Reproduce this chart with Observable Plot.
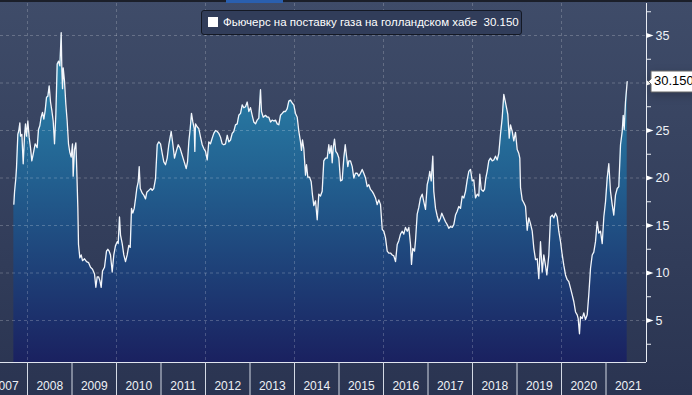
<!DOCTYPE html>
<html><head><meta charset="utf-8">
<script src="https://cdn.jsdelivr.net/npm/d3@7"></script>
<script src="https://cdn.jsdelivr.net/npm/@observablehq/plot@0.6"></script>
<style>
html,body{margin:0;padding:0;}
body{width:692px;height:395px;overflow:hidden;background:linear-gradient(#3f4c69,#2a3451);font-family:"Liberation Sans",Arial,sans-serif;}
#wrap{position:relative;width:692px;height:395px;}
#wrap svg{display:block;}
#topbar{position:absolute;left:0;top:0;width:692px;height:2px;background:#1b1f29;}
#topbar i{position:absolute;left:226px;width:57px;top:0;height:3px;background:#2a5fae;}
#legend{position:absolute;left:201px;top:10px;width:321px;height:25px;box-sizing:border-box;border:1px solid #141925;border-radius:3px;background:#313d5a;color:#fff;font-size:11.5px;line-height:23px;padding-left:6px;white-space:nowrap;}
#legend .sw{display:inline-block;width:10px;height:10px;background:#fff;margin-right:5px;vertical-align:-1px;}
g[aria-label="tip"] text{fill:#000;}
</style>
</head><body>
<div id="wrap"></div>
<script>
// TTF gas futures: [decimal year, price]
const ttf = [
[2007.693,17.25],[2007.708,18.5],[2007.738,20],[2007.753,21.1],[2007.783,24.6],[2007.805,25],[2007.828,25.8],[2007.843,24.4],[2007.873,24.6],[2007.903,21.5],[2007.933,24.4],[2007.955,25.7],[2007.978,24.4],
[2008.007,26],[2008.037,24.3],[2008.067,23.2],[2008.097,21.8],[2008.127,22.5],[2008.172,23.6],[2008.217,23.2],[2008.247,25.1],[2008.277,25.5],[2008.307,26.4],[2008.337,26.9],[2008.367,26.2],[2008.397,27.1],[2008.427,28.5],[2008.457,28.6],[2008.487,29.7],[2008.517,28],[2008.547,27.1],[2008.577,26],[2008.607,23.6],[2008.637,26.7],[2008.667,32],[2008.697,32.3],[2008.727,31.8],[2008.757,35.3],[2008.772,31.3],[2008.787,29.4],[2008.802,31.6],[2008.831,30.2],[2008.861,27.8],[2008.891,26],[2008.921,23.6],[2008.951,22.7],[2008.981,22.2],
[2009.011,23.6],[2009.026,20.2],[2009.056,23],[2009.086,23.7],[2009.101,21.8],[2009.131,16.9],[2009.146,13],[2009.176,11.6],[2009.206,11.9],[2009.236,11.3],[2009.281,11.5],[2009.326,11.2],[2009.371,11.1],[2009.416,10.6],[2009.461,10.4],[2009.506,9.9],[2009.536,8.5],[2009.566,9.6],[2009.596,9.6],[2009.626,9.2],[2009.656,8.5],[2009.685,10.2],[2009.730,10.6],[2009.775,12.3],[2009.805,12.5],[2009.835,12.3],[2009.865,11.9],[2009.903,10.1],[2009.939,11.9],[2009.978,12.9],
[2010.016,13.3],[2010.038,13.1],[2010.067,15.9],[2010.090,14.0],[2010.128,13.1],[2010.164,11.9],[2010.202,11.2],[2010.240,11.9],[2010.276,12.9],[2010.308,12.7],[2010.337,16.8],[2010.366,16.3],[2010.398,16.8],[2010.427,17.8],[2010.456,18.9],[2010.488,19.6],[2010.510,21.2],[2010.533,18.9],[2010.578,18.4],[2010.613,18.2],[2010.652,17.8],[2010.681,18.5],[2010.726,18.7],[2010.771,18.9],[2010.802,18.7],[2010.838,18.9],[2010.876,19.9],[2010.915,23.5],[2010.951,23.8],[2010.989,23.6],
[2011.027,22.6],[2011.063,21.7],[2011.101,21.4],[2011.139,22.1],[2011.175,23.5],[2011.229,24.9],[2011.265,23.6],[2011.303,22.1],[2011.342,22.8],[2011.387,23.5],[2011.431,23.1],[2011.476,22.4],[2011.521,21.7],[2011.566,21.0],[2011.596,21.7],[2011.625,23.8],[2011.656,25.2],[2011.685,26.8],[2011.715,25.9],[2011.746,25.2],[2011.760,22.8],[2011.775,25.7],[2011.813,25.4],[2011.849,25.2],[2011.888,24.3],[2011.926,23.5],[2011.962,23.1],
[2012.000,22.8],[2012.038,21.9],[2012.074,23.8],[2012.112,23.6],[2012.151,24.2],[2012.187,24.7],[2012.225,25.0],[2012.263,24.9],[2012.299,24.7],[2012.337,24.3],[2012.375,23.6],[2012.411,23.5],[2012.449,23.6],[2012.488,24.5],[2012.524,23.8],[2012.562,24.0],[2012.600,24.7],[2012.636,24.9],[2012.674,25.6],[2012.712,25.7],[2012.748,26.6],[2012.787,26.8],[2012.825,27.7],[2012.861,27.4],[2012.899,27.5],[2012.937,28.0],[2012.973,27.0],
[2013.011,27.4],[2013.049,26.6],[2013.085,25.9],[2013.124,25.7],[2013.162,26.1],[2013.198,26.3],[2013.236,29.3],[2013.258,27.0],[2013.297,26.4],[2013.348,26.6],[2013.387,26.4],[2013.422,26.4],[2013.461,25.9],[2013.499,26.1],[2013.535,26.0],[2013.573,26.1],[2013.611,25.7],[2013.647,25.6],[2013.685,26.6],[2013.724,26.8],[2013.760,27.0],[2013.798,27.0],[2013.836,27.3],[2013.872,28.1],[2013.910,28.2],[2013.948,27.9],[2013.984,27.7],
[2014.022,26.8],[2014.061,26.4],[2014.097,24.9],[2014.135,23.8],[2014.157,22.9],[2014.180,24.0],[2014.209,23.1],[2014.247,20.3],[2014.270,21.4],[2014.299,20.1],[2014.337,20.1],[2014.375,19.6],[2014.404,18.2],[2014.434,17.1],[2014.472,17.6],[2014.510,15.6],[2014.546,18.3],[2014.584,18.1],[2014.622,18.6],[2014.658,21.8],[2014.697,22.1],[2014.735,22.1],[2014.771,23.5],[2014.793,22.6],[2014.825,23.4],[2014.847,21.6],[2014.870,23.2],[2014.899,24.1],[2014.928,22.8],[2014.960,22.6],[2014.996,22.1],
[2015.034,19.7],[2015.072,19.8],[2015.108,22.1],[2015.140,23.5],[2015.169,22.3],[2015.198,21.2],[2015.220,21.8],[2015.258,21.8],[2015.297,21.2],[2015.333,20.0],[2015.371,20.5],[2015.409,20.5],[2015.445,20.2],[2015.483,20.5],[2015.521,20.9],[2015.557,20.5],[2015.596,20.0],[2015.634,19.1],[2015.670,19.3],[2015.708,18.8],[2015.746,18.6],[2015.782,18.3],[2015.820,17.9],[2015.858,17.2],[2015.894,17.7],[2015.933,17.2],[2015.971,14.6],
[2016.007,14.4],[2016.045,13.7],[2016.083,12.3],[2016.119,12.1],[2016.157,12.1],[2016.196,11.9],[2016.231,11.8],[2016.270,11.2],[2016.308,13.0],[2016.344,13.4],[2016.382,14.1],[2016.420,14.4],[2016.456,14.1],[2016.494,14.8],[2016.533,14.4],[2016.569,14.8],[2016.607,13.0],[2016.629,10.9],[2016.658,12.6],[2016.697,12.3],[2016.719,13.4],[2016.757,16.2],[2016.793,16.9],[2016.831,17.9],[2016.870,18.3],[2016.906,17.5],[2016.944,16.7],[2016.982,19.3],
[2017.018,20.0],[2017.040,20.7],[2017.072,19.7],[2017.108,22.3],[2017.130,18.6],[2017.169,16.8],[2017.207,16.0],[2017.243,15.4],[2017.281,15.8],[2017.310,16.3],[2017.355,15.8],[2017.393,15.4],[2017.431,15.1],[2017.467,14.7],[2017.506,14.9],[2017.544,14.8],[2017.580,15.1],[2017.618,16.1],[2017.656,16.5],[2017.692,17.0],[2017.730,16.8],[2017.769,18.1],[2017.804,17.9],[2017.843,18.6],[2017.881,19.8],[2017.917,20.7],[2017.955,20.9],[2017.993,19.7],
[2018.029,19.8],[2018.067,17.9],[2018.106,18.3],[2018.142,18.1],[2018.164,20.4],[2018.196,18.8],[2018.240,18.6],[2018.270,18.8],[2018.299,20.0],[2018.330,20.7],[2018.366,21.8],[2018.404,22.1],[2018.443,21.8],[2018.479,21.9],[2018.517,22.3],[2018.555,21.9],[2018.591,22.6],[2018.629,24.6],[2018.667,26.3],[2018.703,28.8],[2018.735,28.1],[2018.764,27.4],[2018.793,26.7],[2018.825,24.2],[2018.854,25.6],[2018.892,24.9],[2018.928,23.9],[2018.966,24.8],
[2019.004,23.0],[2019.040,22.6],[2019.063,22.1],[2019.079,19.0],[2019.117,17.7],[2019.153,17.4],[2019.191,17.0],[2019.229,14.5],[2019.265,15.8],[2019.303,15.2],[2019.342,14.4],[2019.378,12.6],[2019.416,11.4],[2019.454,11.5],[2019.490,9.4],[2019.528,13.3],[2019.566,10.1],[2019.602,11.9],[2019.640,10.8],[2019.670,9.8],[2019.715,11.9],[2019.753,15.9],[2019.791,16.1],[2019.827,15.8],[2019.865,16.3],[2019.903,15.9],[2019.939,14.4],[2019.978,13.3],
[2020.016,11.9],[2020.052,10.8],[2020.090,9.8],[2020.128,9.3],[2020.164,9.1],[2020.202,8.4],[2020.240,7.7],[2020.276,7.0],[2020.315,5.9],[2020.353,5.6],[2020.375,5.2],[2020.404,3.6],[2020.427,5.4],[2020.465,5.2],[2020.501,5.8],[2020.539,5.1],[2020.578,5.6],[2020.613,7.7],[2020.652,10.5],[2020.690,11.9],[2020.726,12.2],[2020.764,13.3],[2020.802,15.4],[2020.838,14.2],[2020.876,14.4],[2020.915,13.1],[2020.951,15.9],[2020.989,17.5],
[2021.027,20.0],[2021.063,21.5],[2021.101,18.6],[2021.139,17.2],[2021.175,16.1],[2021.213,18.2],[2021.252,18.9],[2021.288,19.1],[2021.326,23.5],[2021.364,24.9],[2021.387,26.6],[2021.409,25.1],[2021.438,28.0],[2021.476,30.15]
];
const seriesLabel = "Фьючерс на поставку газа на голландском хабе";
const yTicks = [5, 10, 15, 20, 25, 30, 35];
const yLabelTicks = [5, 10, 15, 20, 25, 35]; // 30 sits under the last-value box
const yMinorTicks = [2.5, 7.5, 12.5, 17.5, 22.5, 27.5, 32.5, 37.5];
const yearStarts = [2008,2009,2010,2011,2012,2013,2014,2015,2016,2017,2018,2019,2020,2021];
const yearLabels = [2007,2008,2009,2010,2011,2012,2013,2014,2015,2016,2017,2018,2019,2020,2021];
const gridYears = [2008,2010,2012,2014,2016,2018,2020];
const xDomain = [2007.393, 2021.91];
const yDomain = [0.58, 38.37];

const last = ttf[ttf.length - 1];
const fmt = v => v.toFixed(3);
const X = d => d[0], Y = d => d[1];

const defs = (index, scales, values, dim) => {
  const g = document.createElementNS("http://www.w3.org/2000/svg", "defs");
  const top = dim.marginTop + 30, bottom = dim.height - dim.marginBottom;
  g.innerHTML = `<linearGradient id="areaGrad" gradientUnits="userSpaceOnUse" x1="0" y1="${top}" x2="0" y2="${bottom}">
    <stop offset="0" stop-color="#2c8db1"/><stop offset="0.45" stop-color="#225f8f"/><stop offset="1" stop-color="#1a2160"/></linearGradient>`;
  return g;
};

const marks = [
  defs,
  Plot.areaY(ttf, {x: X, y1: yDomain[0], y2: Y, fill: "url(#areaGrad)"}),
  Plot.ruleY(yTicks, {stroke: "#fff", strokeOpacity: 0.22, strokeDasharray: "3,3"}),
  Plot.ruleX(gridYears, {stroke: "#fff", strokeOpacity: 0.2, strokeDasharray: "3,3"}),
  Plot.lineY(ttf, {x: X, y: Y, stroke: "#f3f6fb", strokeWidth: 1.3}),
  Plot.ruleY([yDomain[0]], {stroke: "#dfe4ee", strokeWidth: 1}),
  Plot.ruleX([xDomain[1]], {stroke: "#e8ecf3", strokeWidth: 1}),
  Plot.axisX(yearStarts, {anchor: "bottom", tickSize: 33, fill: "none", stroke: "#d3d9e4"}),
  Plot.axisX(yearLabels.map(y => y + 0.5), {anchor: "bottom", tickSize: 0, tickPadding: 19, tickFormat: d => String(Math.floor(d)), fontSize: 12, fill: "#eef1f6"}),
  Plot.axisY(yMinorTicks, {anchor: "right", tickSize: 4, fill: "none", stroke: "#e8ecf3"}),
  Plot.axisY(yLabelTicks, {anchor: "right", tickSize: 0, tickPadding: 9, fontSize: 12.5, fill: "#eef1f6"}),
  Plot.vector(yTicks, {frameAnchor: "right", y: d => d, rotate: 90, anchor: "start", length: 7, fill: "#fff", stroke: "none",
    shape: {draw(ctx, l, r) { ctx.moveTo(-2.5, 0); ctx.lineTo(0, -l); ctx.lineTo(2.5, 0); ctx.closePath(); }}})
];
if (Plot.tip) {
  marks.push(Plot.tip([last], {y: Y, frameAnchor: "right", anchor: "left", dx: 2, title: d => fmt(d[1]),
    fill: "#fff", stroke: "#666", textPadding: 3, pointerSize: 5, fontSize: 13, fontFamily: "Liberation Sans, Arial, sans-serif"}));
}

const chart = Plot.plot({
  width: 692, height: 395,
  marginLeft: 0, marginRight: 46, marginTop: 3, marginBottom: 33,
  x: {domain: xDomain, axis: null},
  y: {domain: yDomain, axis: null},
  style: {background: "transparent", color: "#eef1f6", fontFamily: "Liberation Sans, Arial, sans-serif", overflow: "hidden"},
  marks
});
const wrap = document.getElementById("wrap");
wrap.appendChild(chart);
const bar = document.createElement("div"); bar.id = "topbar"; bar.appendChild(document.createElement("i"));
wrap.appendChild(bar);
const lg = document.createElement("div"); lg.id = "legend";
lg.innerHTML = `<span class="sw"></span>${seriesLabel}&nbsp; ${fmt(last[1])}`;
wrap.appendChild(lg);
</script>
</body></html>
